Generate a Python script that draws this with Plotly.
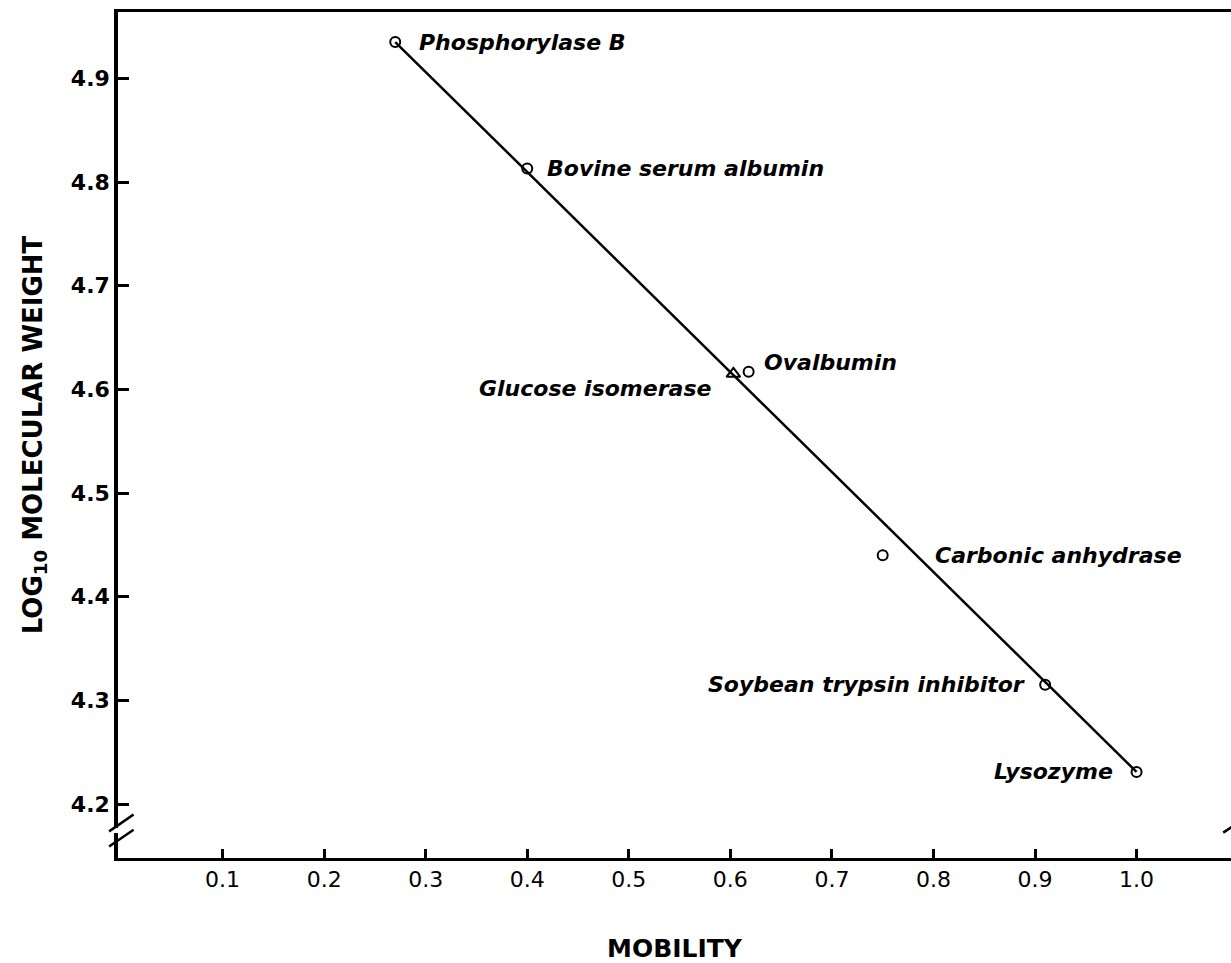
import plotly.graph_objects as go

# Marker proteins: electrophoretic mobility vs log10 molecular weight
proteins = ["Phosphorylase B", "Bovine serum albumin", "Ovalbumin",
            "Carbonic anhydrase", "Soybean trypsin inhibitor", "Lysozyme"]
mobility = [0.27, 0.40, 0.618, 0.75, 0.91, 1.0]
log_mw = [4.935, 4.813, 4.617, 4.44, 4.315, 4.231]

# Unknown protein placed on the standard curve
unknown_name = ["Glucose isomerase"]
unknown_mobility = [0.603]
unknown_log_mw = [4.615]

# Standard curve end points
fit_mobility = [0.27, 1.0]
fit_log_mw = [4.935, 4.231]

x_ticks = [0.1, 0.2, 0.3, 0.4, 0.5, 0.6, 0.7, 0.8, 0.9, 1.0]
x_tick_text = ["0.1", "0.2", "0.3", "0.4", "0.5", "0.6", "0.7", "0.8", "0.9", "1.0"]
y_ticks = [4.2, 4.3, 4.4, 4.5, 4.6, 4.7, 4.8, 4.9]
y_tick_text = ["4.2", "4.3", "4.4", "4.5", "4.6", "4.7", "4.8", "4.9"]

# label placement (pixel offsets from the point, anchor side)
label_style = {
    "Phosphorylase B": (22, 0, "left"),
    "Bovine serum albumin": (18, 0, "left"),
    "Ovalbumin": (13, 9, "left"),
    "Carbonic anhydrase": (50, 0, "left"),
    "Soybean trypsin inhibitor": (-18, 0, "right"),
    "Lysozyme": (-22, 0, "right"),
    "Glucose isomerase": (-20, -15, "right"),
}

INK = "#000000"
FONT = "DejaVu Sans"

fig = go.Figure()

fig.add_trace(go.Scatter(
    x=fit_mobility, y=fit_log_mw, mode="lines",
    line=dict(color=INK, width=2.5), hoverinfo="skip", showlegend=False))

fig.add_trace(go.Scatter(
    x=mobility, y=log_mw, mode="markers",
    marker=dict(symbol="circle-open", size=10, color=INK, line=dict(width=2, color=INK)),
    showlegend=False))

fig.add_trace(go.Scatter(
    x=unknown_mobility, y=unknown_log_mw, mode="markers",
    marker=dict(symbol="triangle-up-open", size=12, color=INK, line=dict(width=2, color=INK)),
    showlegend=False))

for name, xv, yv in list(zip(proteins, mobility, log_mw)) + \
        list(zip(unknown_name, unknown_mobility, unknown_log_mw)):
    dx, dy, anchor = label_style[name]
    fig.add_annotation(
        x=xv, y=yv, text=name, showarrow=False,
        xanchor=anchor, yanchor="middle", xshift=dx, yshift=dy,
        font=dict(family=FONT, size=22, color=INK, style="italic", weight="bold"))

# axis break marks on the value axis and at the far end of the mobility axis
fig.add_shape(type="rect", xref="paper", yref="paper",
              x0=-0.004, x1=0.004, y0=0.0295, y1=0.0355,
              fillcolor="white", line=dict(width=0), layer="above")
for y0 in (0.0355, 0.0175):
    fig.add_shape(type="line", xref="paper", yref="paper",
                  x0=-0.008, x1=0.014, y0=y0 - 0.004, y1=y0 + 0.016,
                  line=dict(color=INK, width=2.5), layer="above")
fig.add_shape(type="line", xref="paper", yref="paper",
              x0=0.993, x1=1.01, y0=0.03, y1=0.045,
              line=dict(color=INK, width=2.5), layer="above")

fig.update_layout(
    width=1231, height=963,
    margin=dict(l=118, r=0, t=12, b=105),
    paper_bgcolor="white", plot_bgcolor="white",
    showlegend=False,
    xaxis=dict(
        range=[-0.003, 1.093], tickmode="array", tickvals=x_ticks, ticktext=x_tick_text,
        ticks="inside", ticklen=9, tickwidth=2.5, tickcolor=INK,
        showline=True, linecolor=INK, linewidth=2.5, mirror=True,
        showgrid=False, zeroline=False,
        tickfont=dict(family=FONT, size=22, color=INK),
        title=dict(text="MOBILITY", standoff=50,
                   font=dict(family=FONT, size=25, color=INK, weight="bold")),
    ),
    yaxis=dict(
        range=[4.148, 4.964], tickmode="array", tickvals=y_ticks, ticktext=y_tick_text,
        ticks="inside", ticklen=11, tickwidth=2.5, tickcolor=INK,
        showline=True, linecolor=INK, linewidth=3.5, mirror=False,
        showgrid=False, zeroline=False,
        tickfont=dict(family=FONT, size=22, color=INK, weight="bold"),
        title=dict(text="LOG<sub>10</sub> MOLECULAR WEIGHT", standoff=22,
                   font=dict(family=FONT, size=26, color=INK, weight="bold")),
    ),
)

fig.write_html("out.html")
